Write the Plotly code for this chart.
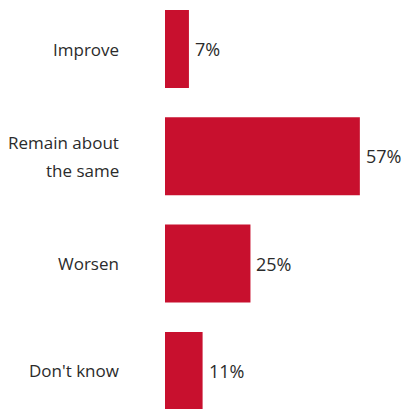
import plotly.graph_objects as go

categories = ["Improve", "Remain about<br>the same", "Worsen", "Don't know"]
values = [7, 57, 25, 11]
value_labels = ["7%", "57%", "25%", "11%"]

BAR_COLOR = "#C8102E"
TEXT_COLOR = "#2b2b2b"
FONT = "Open Sans"
CAT_SIZE = 17
VAL_SIZE = 18
LINE_STEP = 28

positions = list(range(len(categories)))

fig = go.Figure(
    go.Bar(
        x=values,
        y=positions,
        orientation="h",
        marker=dict(color=BAR_COLOR, line=dict(width=0)),
        width=0.727,
        hoverinfo="skip",
    )
)

annotations = []
# category labels, right-aligned to the left of the bars
for pos, cat in zip(positions, categories):
    lines = cat.split("<br>")
    n = len(lines)
    for k, line in enumerate(lines):
        annotations.append(
            dict(
                x=0, y=pos, xref="x", yref="y",
                text=line, showarrow=False,
                xanchor="right", yanchor="middle",
                xshift=-44,
                yshift=-(k - (n - 1) / 2) * LINE_STEP,
                font=dict(family=FONT, size=CAT_SIZE, color=TEXT_COLOR),
            )
        )

# percentage labels just past the end of each bar
for pos, val, lab in zip(positions, values, value_labels):
    annotations.append(
        dict(
            x=val, y=pos, xref="x", yref="y",
            text=lab, showarrow=False,
            xanchor="left", yanchor="middle",
            xshift=4,
            font=dict(family=FONT, size=VAL_SIZE, color=TEXT_COLOR),
        )
    )

fig.update_layout(
    width=406,
    height=409,
    margin=dict(l=165, r=0, t=0, b=0),
    paper_bgcolor="white",
    plot_bgcolor="white",
    showlegend=False,
    annotations=annotations,
    xaxis=dict(range=[0, 70.5], visible=False, fixedrange=True),
    yaxis=dict(range=[3.355, -0.457], visible=False, fixedrange=True),
)

fig.write_html("out.html", config={"displayModeBar": False})
